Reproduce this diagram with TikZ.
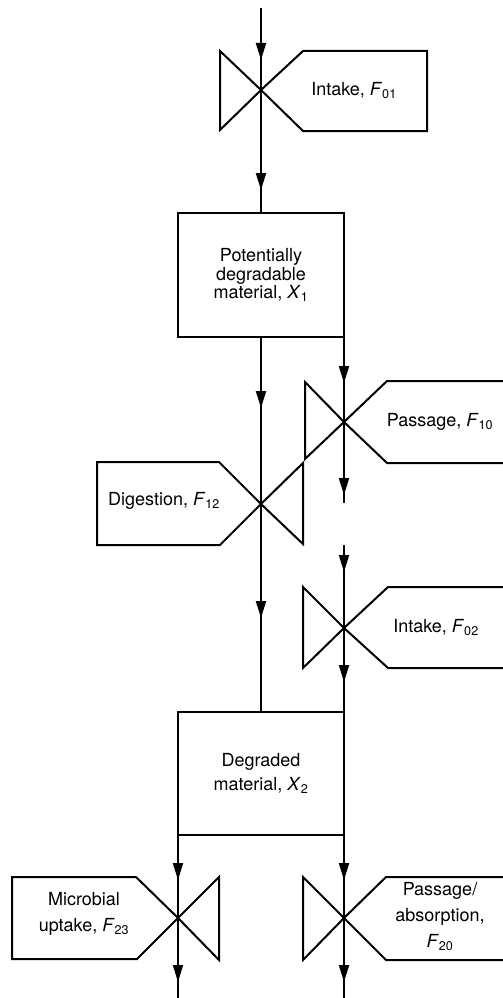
\documentclass[tikz,border=0pt]{standalone}
\usepackage{fontspec}
\setmainfont{TeX Gyre Heros}
\usetikzlibrary{arrows.meta}
\newcommand{\fsub}[2]{\textit{#1}\textsubscript{#2}}
\begin{document}
\begin{tikzpicture}[x=1pt,y=-1pt, line width=2pt, line join=miter,
  arr/.style={-{Triangle[length=17pt,width=10pt]}},
  cont/.style={shorten <=-8pt},
  lbl/.style={inner sep=0pt, align=center, font=\fontsize{18}{26}\selectfont},
  boxnode/.style={draw, rectangle, inner sep=0pt, outer sep=0pt, align=center}]
\useasboundingbox (0,0) rectangle (503,998);

% boxes
\node[boxnode, minimum width=166pt, minimum height=124pt, font=\fontsize{18}{18.5}\selectfont] (b1) at (261,275)
  {Potentially\\degradable\\material, \fsub{X}{1}};
\node[boxnode, minimum width=166pt, minimum height=123pt, font=\fontsize{18}{24}\selectfont] (b2) at (261,773.5)
  {Degraded\\material, \fsub{X}{2}};

% coordinates
\coordinate (top) at (261,8);
\coordinate (a1) at (261,60);
\coordinate (v1) at (261,90);
\coordinate (a2) at (261,190);
\coordinate (a3) at (261,408);
\coordinate (vd) at (261,504);
\coordinate (a4) at (261,618);
\coordinate (p1) at (344,383);
\coordinate (vp) at (344,422);
\coordinate (p2) at (344,495);
\coordinate (pend) at (344,503);
\coordinate (istart) at (344,545);
\coordinate (i1) at (344,572);
\coordinate (vi) at (344,628);
\coordinate (i2) at (344,682);
\coordinate (m1) at (178,880);
\coordinate (vm) at (178,918);
\coordinate (m2) at (178,982);
\coordinate (mend) at (178,998);
\coordinate (s1) at (344,880);
\coordinate (va) at (344,918);
\coordinate (s2) at (344,982);
\coordinate (aend) at (344,998);

% main column
\draw[arr] (top) -- (a1);
\draw[cont] (a1) -- (v1);
\draw[arr] (v1) -- (a2);
\draw[cont] (a2) -- (b1.north);

\draw[arr] (b1.south) -- (a3);
\draw[cont] (a3) -- (vd);
\draw[arr] (vd) -- (a4);
\draw[cont] (a4) -- (b2.north);

% right column
\draw[arr] (b1.south east) -- (p1);
\draw[cont] (p1) -- (vp);
\draw[arr] (vp) -- (p2);
\draw[cont] (p2) -- (pend);

\draw[arr] (istart) -- (i1);
\draw[cont] (i1) -- (vi);
\draw[arr] (vi) -- (i2);
\draw[cont] (i2) -- (b2.north east);

% outputs
\draw[arr] (b2.south west) -- (m1);
\draw[cont] (m1) -- (vm);
\draw[arr] (vm) -- (m2);
\draw[cont] (m2) -- (mend);

\draw[arr] (b2.south east) -- (s1);
\draw[cont] (s1) -- (va);
\draw[arr] (va) -- (s2);
\draw[cont] (s2) -- (aend);

% valve 1: Intake F01
\draw (v1) -- (220,51) -- (220,130) -- (v1) -- (303,51) -- (427,51) -- (427,131) -- (303,131) -- cycle;
\node[lbl] (t1) at (354,91) {Intake, \fsub{F}{01}};

% valve passage F10
\draw (vp) -- (305,382) -- (305,459) -- (vp) -- (387,381) -- (503,381);
\draw (vp) -- (387,463) -- (503,463);
\node[lbl] (tp) at (440,422) {Passage, \fsub{F}{10}};

% valve digestion F12
\draw (vd) -- (303,463) -- (303,544) -- (vd) -- (219,462) -- (97,462) -- (97,545) -- (220,545) -- cycle;
\node[lbl] (td) at (164,501) {Digestion, \fsub{F}{12}};

% valve intake F02
\draw (vi) -- (303,587) -- (303,668) -- (vi) -- (388,587) -- (503,587);
\draw (vi) -- (388,668) -- (503,668);
\node[lbl] (ti) at (436,628) {Intake, \fsub{F}{02}};

% valve microbial F23
\draw (vm) -- (219,877) -- (219,960) -- (vm) -- (136,877) -- (12,877) -- (12,959) -- (137,959) -- cycle;
\node[lbl] (tm) at (84,914) {Microbial\\uptake, \fsub{F}{23}};

% valve passage/absorption F20
\draw (va) -- (303,877) -- (303,960) -- (va) -- (386,877) -- (503,877);
\draw (va) -- (386,960) -- (503,960);
\node[lbl] (ta) at (440,917) {Passage/\\absorption,\\\fsub{F}{20}};
\end{tikzpicture}
\end{document}
